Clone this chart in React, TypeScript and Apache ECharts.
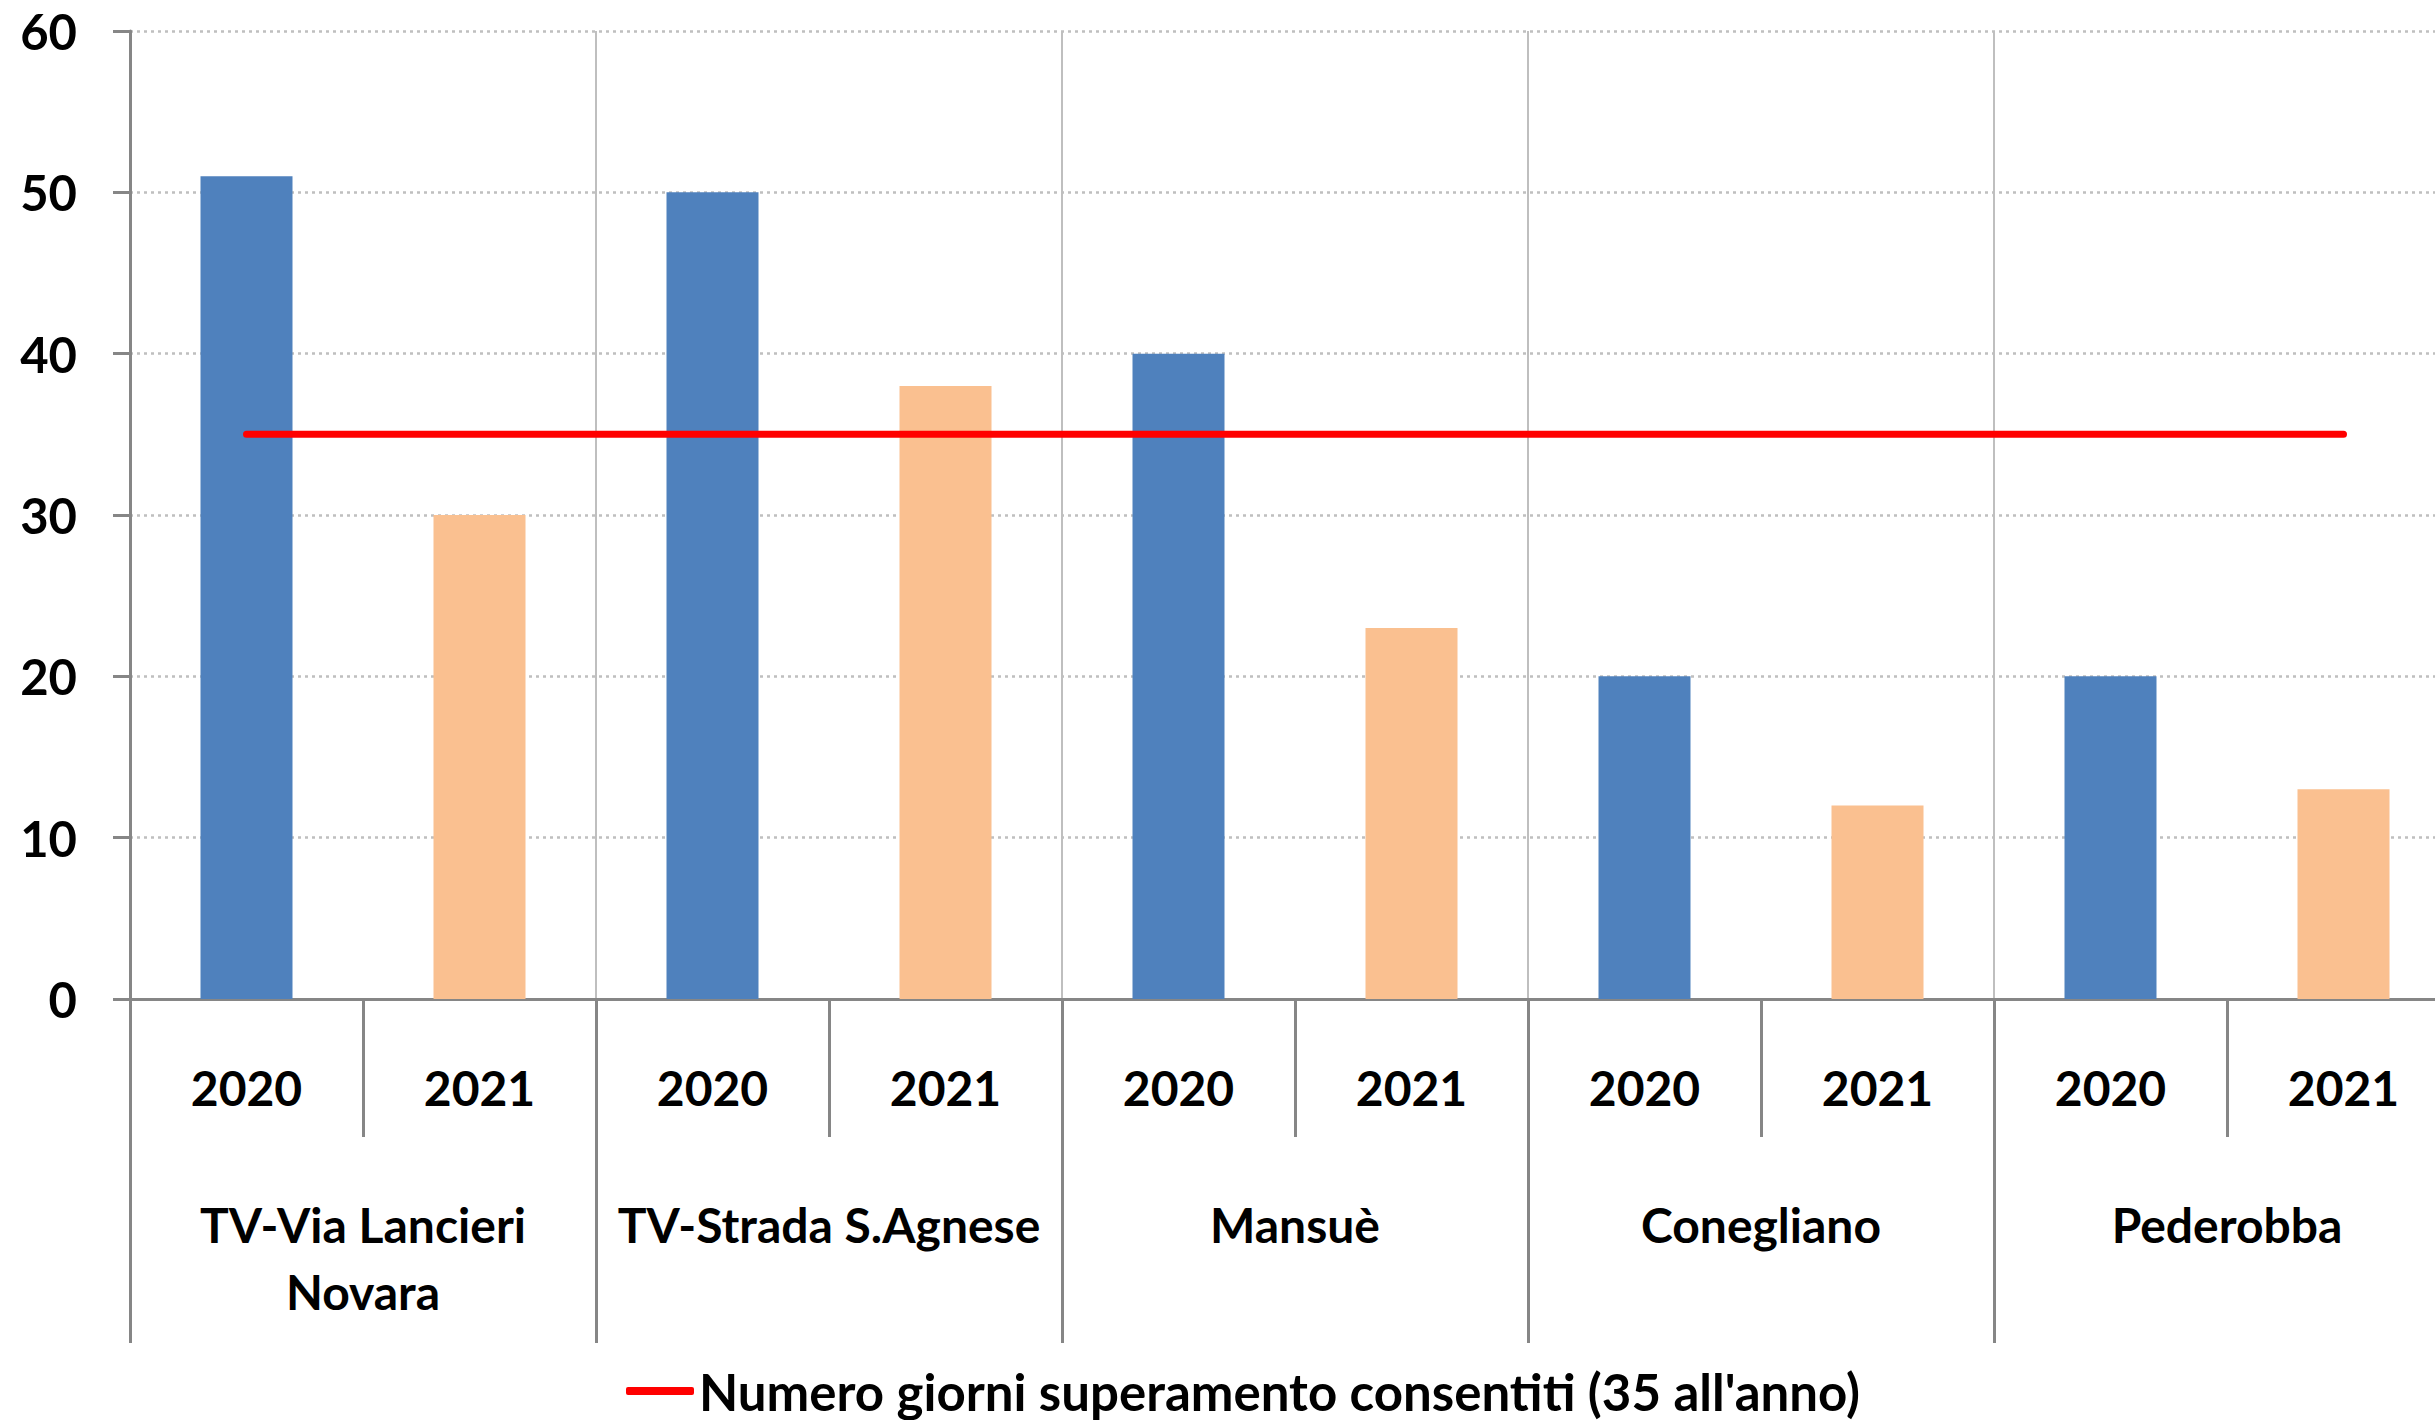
import React, { useEffect, useRef } from "react";
import * as echarts from "echarts";

const stations = ["TV-Via Lancieri\nNovara", "TV-Strada S.Agnese", "Mansuè", "Conegliano", "Pederobba"];
const years = ["2020", "2021"];
const values2020 = [51, 50, 40, 20, 20];
const values2021 = [30, 38, 23, 12, 13];
const limitValues = [35, 35, 35, 35, 35, 35, 35, 35, 35, 35];
const limitName = "Numero giorni superamento consentiti (35 all'anno)";
const yMin = 0;
const yMax = 60;
const yStep = 10;

const FONT = "Lato";

export default function App() {
  const ref = useRef<HTMLDivElement>(null);
  useEffect(() => {
    if (!ref.current) return;
    const chart = echarts.init(ref.current, undefined, { renderer: "svg" });
    const categories: string[] = [];
    const s2020: (number | null)[] = [];
    const s2021: (number | null)[] = [];
    stations.forEach((_, i) => {
      years.forEach((y) => categories.push(i + "|" + y));
      s2020.push(values2020[i], null);
      s2021.push(null, values2021[i]);
    });
    const axisGray = "#868686";
    chart.setOption({
      animation: false,
      backgroundColor: "#ffffff",
      grid: { left: 130, top: 31, bottom: 421, right: 0 },
      legend: {
        data: [{ name: limitName, icon: "roundRect" }],
        left: 621,
        top: 1358,
        itemWidth: 68,
        itemHeight: 8,
        itemStyle: { color: "#FF0000" },
        textStyle: { fontFamily: FONT, fontWeight: "bold", fontSize: 51, lineHeight: 56, color: "#000" },
      },
      xAxis: [
        {
          type: "category",
          data: categories,
          position: "bottom",
          axisLine: { show: true, lineStyle: { color: axisGray, width: 3 } },
          axisTick: { show: true, interval: 0, length: 138, lineStyle: { color: axisGray, width: 3 } },
          axisLabel: {
            interval: 0,
            margin: 60,
            fontFamily: FONT,
            fontWeight: "bold",
            fontSize: 48,
            lineHeight: 56,
            color: "#000",
            formatter: (v: string) => v.split("|")[1],
          },
          splitLine: { show: false },
        },
        {
          type: "category",
          data: stations,
          position: "bottom",
          axisLine: { show: false },
          axisTick: { show: true, interval: 0, length: 344, lineStyle: { color: axisGray, width: 3 } },
          axisLabel: {
            interval: 0,
            margin: 192,
            fontFamily: FONT,
            fontWeight: "bold",
            fontSize: 48,
            lineHeight: 67,
            color: "#000",
          },
          splitLine: { show: true, interval: 0, lineStyle: { color: "#bfbfbf", width: 2, type: "solid" } },
        },
      ],
      yAxis: {
        type: "value",
        min: yMin,
        max: yMax,
        interval: yStep,
        axisLine: { show: true, lineStyle: { color: axisGray, width: 3 } },
        axisTick: { show: true, length: 17, lineStyle: { color: axisGray, width: 3 } },
        axisLabel: { margin: 53, fontFamily: FONT, fontWeight: "bold", fontSize: 49, color: "#000" },
        splitLine: { show: true, lineStyle: { color: "#bfbfbf", width: 2.5, type: [3, 4] } },
      },
      series: [
        {
          name: years[0],
          type: "bar",
          xAxisIndex: 0,
          data: s2020,
          barWidth: 92,
          barGap: "-100%",
          itemStyle: { color: "#4F81BD" },
        },
        {
          name: years[1],
          type: "bar",
          xAxisIndex: 0,
          data: s2021,
          barWidth: 92,
          barGap: "-100%",
          itemStyle: { color: "#FAC090" },
        },
        {
          name: limitName,
          type: "line",
          xAxisIndex: 0,
          data: limitValues,
          symbol: "none",
          showSymbol: false,
          lineStyle: { color: "#FF0000", width: 7, cap: "round" },
          itemStyle: { color: "#FF0000" },
          z: 5,
        },
      ],
    });
    return () => chart.dispose();
  }, []);
  return (
    <div style={{ position: "fixed", left: 0, top: 0, width: 2435, height: 1420, overflow: "hidden", background: "#fff" }}>
      <div ref={ref} style={{ width: 2460, height: 1420 }} />
    </div>
  );
}
